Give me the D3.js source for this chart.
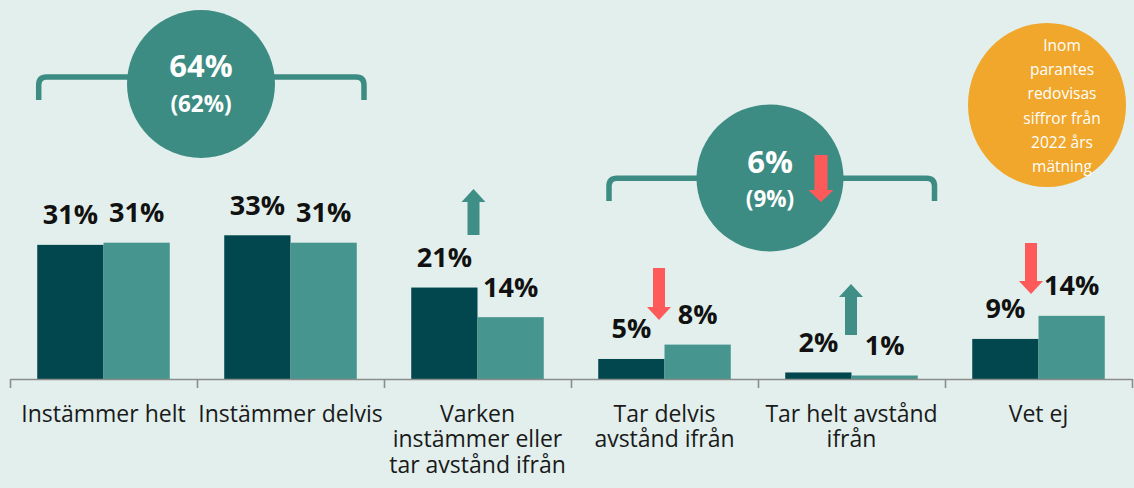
<!DOCTYPE html>
<html><head><meta charset="utf-8">
<script src="https://cdn.jsdelivr.net/npm/d3@7"></script>
<style>html,body{margin:0;padding:0;background:#e2efec;} svg{display:block}</style>
</head><body><svg id="c" width="1134" height="488"></svg>
<script>
// ---- data ----
const categories = [
  "Instämmer helt",
  "Instämmer delvis",
  "Varken\ninstämmer eller\ntar avstånd ifrån",
  "Tar delvis\navstånd ifrån",
  "Tar helt avstånd\nifrån",
  "Vet ej"
];
const seriesKeys = ["current", "y2022"];
const valuesCurrent = [30.8, 33.0, 21.0, 4.6, 1.5, 9.2];
const values2022    = [31.3, 31.3, 14.2, 7.9, 0.8, 14.5];
const labelsCurrent = ["31%", "33%", "21%", "5%", "2%", "9%"];
const labels2022    = ["31%", "31%", "14%", "8%", "1%", "14%"];
const summaryMain = ["64%", "6%"];
const summaryPrev = ["(62%)", "(9%)"];
const noteLines = ["Inom", "parantes", "redovisas", "siffror från", "2022 års", "mätning"];
const arrowCats = [2, 3, 4, 5];
const arrowDirs = ["up", "down", "up", "down"];

// ---- drawing ----
const W = 1134, H = 488;
const C = {bg:"#e2efec", dark:"#02474e", light:"#46958e", circ:"#3d8c83", orange:"#f0a72b", red:"#ff5a5a", green:"#3f8f86", axis:"#8c8c8c"};
const svg = d3.select("#c");
svg.append("rect").attr("width", W).attr("height", H).attr("fill", C.bg);

const x = d3.scaleBand().domain(categories).range([10, 1132]).padding(0);
const x1 = d3.scaleBand().domain(seriesKeys).range([0, x.bandwidth()]).paddingInner(0).paddingOuter(0.411);
const y = d3.scaleLinear().domain([0, 40]).range([379, 379 - 174.2]);

const rows = categories.map((c, i) => ({c, i, vals: [
  {k:"current", v:valuesCurrent[i], lab:labelsCurrent[i], col:C.dark},
  {k:"y2022", v:values2022[i], lab:labels2022[i], col:C.light}
]}));

const grp = svg.selectAll("g.cat").data(rows).join("g").attr("class","cat")
  .attr("transform", d => `translate(${x(d.c)},0)`);
grp.selectAll("rect").data(d => d.vals).join("rect")
  .attr("x", d => x1(d.k)).attr("width", x1.bandwidth())
  .attr("y", d => y(d.v)).attr("height", d => y(0) - y(d.v))
  .attr("fill", d => d.col);
grp.selectAll("text.val").data(d => d.vals).join("text").attr("class","val")
  .attr("x", d => x1(d.k) + x1.bandwidth()/2).attr("y", d => y(d.v) - 20.5)
  .attr("text-anchor","middle").attr("font-family","'Open Sans', sans-serif")
  .attr("font-weight",700).attr("font-size",27).attr("fill","#111")
  .text(d => d.lab);

// axis with ticks at band edges
const xe = d3.scaleLinear().domain([0, categories.length]).range([10, 1132]);
const ax = svg.append("g").attr("transform", `translate(0,${y(0)})`)
  .call(d3.axisBottom(xe).tickValues(d3.range(categories.length + 1)).tickSize(9).tickSizeOuter(0).tickFormat(""));
ax.selectAll("path,line").attr("stroke", C.axis).attr("stroke-width", 1.6);

// category labels (one text per line)
grp.each(function(d){
  const lines = d.c.split("\n");
  d3.select(this).selectAll("text.cl").data(lines).join("text").attr("class","cl")
    .attr("text-anchor","middle").attr("x", x.bandwidth()/2).attr("y", (ln, j) => 421.7 + j*25.5)
    .attr("font-family","'Open Sans', sans-serif").attr("font-size",23).attr("fill","#1a1a1a")
    .text(ln => ln);
});

// brackets
function bracket(x0, x2, yTop, yBot, r){
  return `M${x0},${yBot} L${x0},${yTop + r} Q${x0},${yTop} ${x0 + r},${yTop} L${x2 - r},${yTop} Q${x2},${yTop} ${x2},${yTop + r} L${x2},${yBot}`;
}
svg.append("path").attr("d", bracket(38.7, 364, 77, 100, 8)).attr("fill","none").attr("stroke", C.circ).attr("stroke-width", 5.5);
svg.append("path").attr("d", bracket(609, 934.5, 178.3, 201, 8)).attr("fill","none").attr("stroke", C.circ).attr("stroke-width", 5.5);

// summary circles
const circ = [{cx:201, cy:84, r:74, ty1:77, ty2:112}, {cx:770, cy:178, r:73.5, ty1:173, ty2:207}];
circ.forEach((c, i) => {
  svg.append("circle").attr("cx", c.cx).attr("cy", c.cy).attr("r", c.r).attr("fill", C.circ);
  svg.append("text").attr("x", c.cx).attr("y", c.ty1).attr("text-anchor","middle")
    .attr("font-family","'Open Sans', sans-serif").attr("font-weight",700).attr("font-size",31).attr("fill","#fff").text(summaryMain[i]);
  svg.append("text").attr("x", c.cx).attr("y", c.ty2).attr("text-anchor","middle")
    .attr("font-family","'Open Sans', sans-serif").attr("font-weight",700).attr("font-size",22.5).attr("fill","#fff").text(summaryPrev[i]);
});

// note bubble
svg.append("ellipse").attr("cx", 1047).attr("cy", 105).attr("rx", 79).attr("ry", 82).attr("fill", C.orange);
const nt = svg.append("text").attr("text-anchor","middle").attr("font-family","'Open Sans', sans-serif")
  .attr("font-size",15.5).attr("fill","#fff");
noteLines.forEach((ln, j) => nt.append("tspan").attr("x", 1062).attr("y", 51 + j*24.2).text(ln));

// arrows
function arrow(cx, yTail, yTip, hw, sw, hl){
  const dir = yTip < yTail ? -1 : 1;
  const yb = yTip - dir*hl;
  return `M${cx - sw},${yTail} L${cx - sw},${yb} L${cx - hw},${yb} L${cx},${yTip} L${cx + hw},${yb} L${cx + sw},${yb} L${cx + sw},${yTail} Z`;
}
const arrowGeom = {2:{cx:473.5, tail:235, tip:189}, 3:{cx:659, tail:268, tip:320}, 4:{cx:851, tail:335, tip:284}, 5:{cx:1031, tail:243, tip:294}};
arrowCats.forEach((ci, j) => {
  const g = arrowGeom[ci];
  svg.append("path").attr("d", arrow(g.cx, g.tail, g.tip, 12, 6, 13))
    .attr("fill", arrowDirs[j] === "up" ? C.green : C.red);
});
// arrow inside the second summary circle
svg.append("path").attr("d", arrow(821, 155, 202, 12.5, 6.5, 12)).attr("fill", C.red);
</script></body></html>
